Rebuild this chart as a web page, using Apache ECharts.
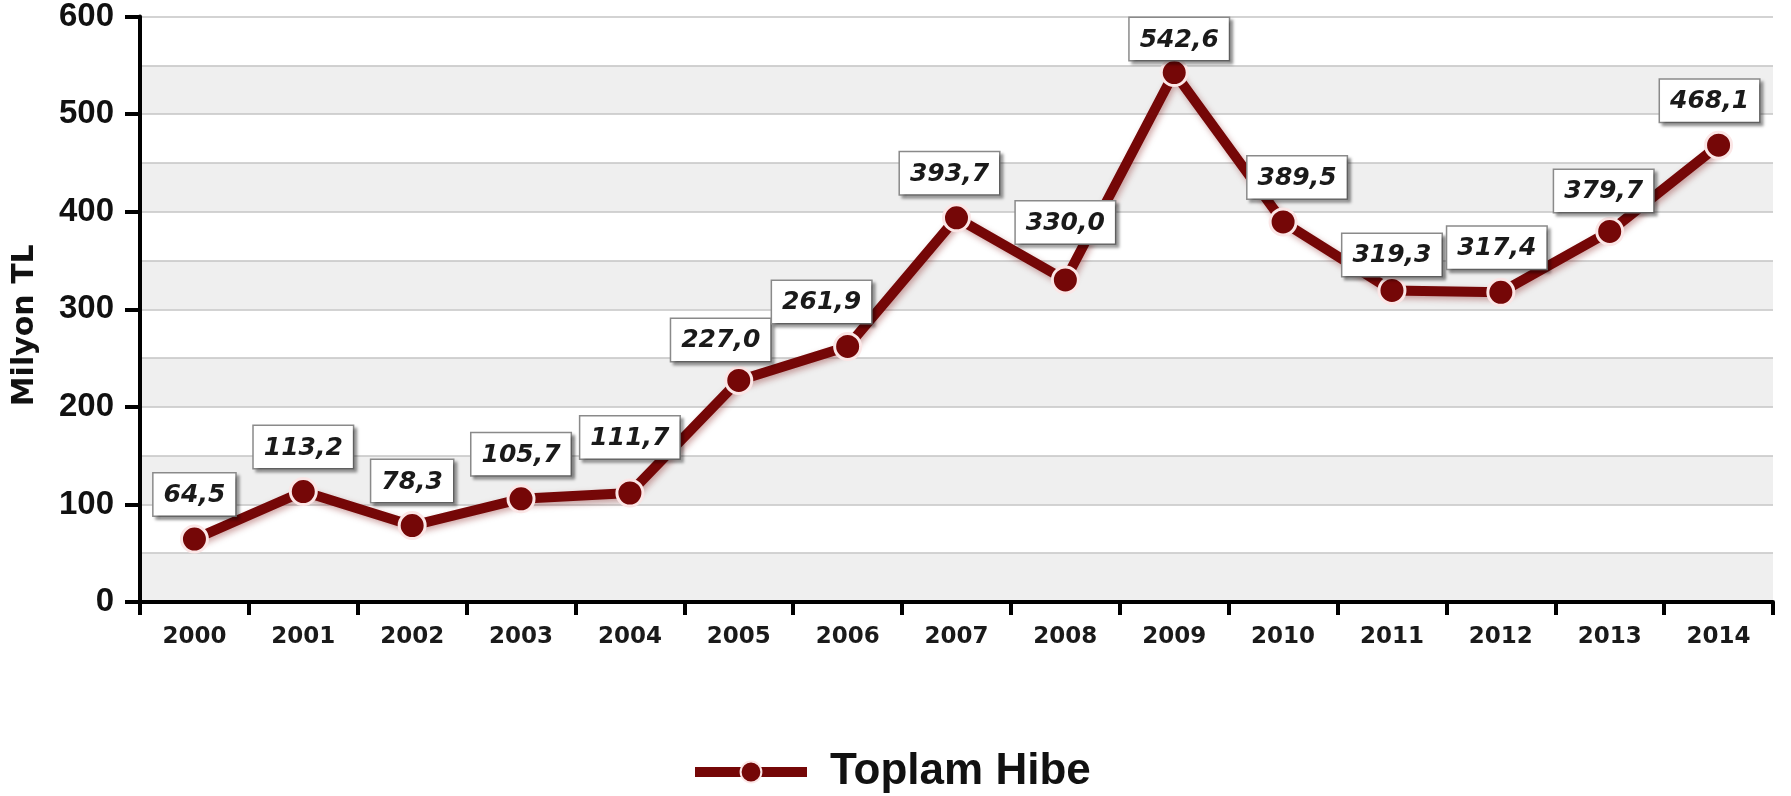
<!DOCTYPE html>
<html>
<head>
<meta charset="utf-8">
<title>Toplam Hibe</title>
<script src="https://cdn.jsdelivr.net/npm/echarts@6/dist/echarts.min.js"></script>
<style>
	html, body { margin: 0; padding: 0; background: #fff; }
	#chart { width: 1791px; height: 796px; }
</style>
</head>
<body>
<div id="chart"></div>
<script>
// years on the x axis
var years = ['2000', '2001', '2002', '2003', '2004', '2005', '2006', '2007', '2008', '2009', '2010', '2011', '2012', '2013', '2014'];
// Toplam Hibe, milyon TL
var hibe = [64.5, 113.2, 78.3, 105.7, 111.7, 227.0, 261.9, 393.7, 330.0, 542.6, 389.5, 319.3, 317.4, 379.7, 468.1];
var seriesName = 'Toplam Hibe';
var yName = 'Milyon TL';

var font = "'Liberation Sans', Arial, sans-serif";
var wide = "'DejaVu Sans', Verdana, sans-serif";
var red = '#750707';

// small nudges of the value boxes, like the original picture
var nudge = {
	'2004': [0, -11],
	'2005': [-18, 4],
	'2006': [-26, 0],
	'2007': [-7, 0],
	'2008': [0, -13],
	'2009': [5, 11],
	'2010': [14, 0],
	'2011': [0, 9],
	'2012': [-4, 0],
	'2013': [-6, 4],
	'2014': [-9, 0]
};

var points = hibe.map(function(v, i) {
	var item = { value: v };
	if (nudge[years[i]]) {
		item.label = { offset: nudge[years[i]] };
	}
	return item;
});

var myChart = echarts.init(document.getElementById('chart'));

var option = {
	backgroundColor: '#ffffff',
	animation: false,
	grid: {
		left: 140,
		right: 18,
		top: 15,
		bottom: 194
	},
	legend: {
		data: [seriesName],
		left: 685,
		top: 745,
		itemWidth: 112,
		itemHeight: 26,
		lineStyle: { width: 10 },
		textStyle: {
			fontFamily: font,
			fontWeight: 'bold',
			fontSize: 44,
			color: '#111',
			padding: [0, 0, 0, 18]
		}
	},
	xAxis: {
		type: 'category',
		data: years,
		boundaryGap: true,
		axisLine: { lineStyle: { color: '#000', width: 4 } },
		axisTick: { show: true, length: 13, lineStyle: { color: '#000', width: 4 } },
		axisLabel: {
			fontFamily: wide,
			fontWeight: 'bold',
			fontSize: 23,
			color: '#1a1a1a',
			margin: 24
		}
	},
	yAxis: [{
		type: 'value',
		min: 0,
		max: 600,
		interval: 100,
		name: yName,
		nameLocation: 'middle',
		nameRotate: 90,
		nameGap: 100,
		nameTextStyle: {
			fontFamily: wide,
			fontWeight: 'bold',
			fontSize: 30,
			color: '#111',
			padding: [0, 32, 0, 0]
		},
		axisLine: { show: true, lineStyle: { color: '#000', width: 4 } },
		axisTick: { show: true, length: 15, lineStyle: { color: '#000', width: 4 } },
		axisLabel: {
			fontFamily: font,
			fontWeight: 'bold',
			fontSize: 33,
			color: '#111',
			margin: 26
		},
		splitLine: { show: false },
		z: 5
	}, {
		// only for the 50-step grid lines and bands
		type: 'value',
		min: 0,
		max: 600,
		interval: 50,
		position: 'left',
		axisLine: { show: false },
		axisTick: { show: false },
		axisLabel: { show: false },
		splitLine: { show: true, lineStyle: { color: '#c4c4c4', width: 1.5 } },
		splitArea: { show: true, areaStyle: { color: ['#efefef', '#ffffff'] } }
	}],
	series: [{
		name: seriesName,
		type: 'line',
		yAxisIndex: 0,
		data: points,
		symbol: 'circle',
		symbolSize: 26,
		lineStyle: {
			color: red,
			width: 10,
			shadowColor: 'rgba(120, 0, 0, 0.35)',
			shadowBlur: 6,
			shadowOffsetX: 2,
			shadowOffsetY: 3
		},
		itemStyle: {
			color: red,
			borderColor: '#fbe6e6',
			borderWidth: 3
		},
		label: {
			show: true,
			position: 'top',
			distance: 9,
			formatter: function(p) {
				return p.value.toFixed(1).replace('.', ',');
			},
			fontFamily: wide,
			fontWeight: 'bold',
			fontStyle: 'italic',
			fontSize: 25,
			lineHeight: 30,
			color: '#1a1a1a',
			backgroundColor: '#ffffff',
			borderColor: '#8a8a8a',
			borderWidth: 1.5,
			padding: [7, 10, 5, 10],
			shadowColor: 'rgba(0, 0, 0, 0.35)',
			shadowBlur: 3,
			shadowOffsetX: 3,
			shadowOffsetY: 3
		},
		z: 10
	}]
};

myChart.setOption(option);
</script>
</body>
</html>
